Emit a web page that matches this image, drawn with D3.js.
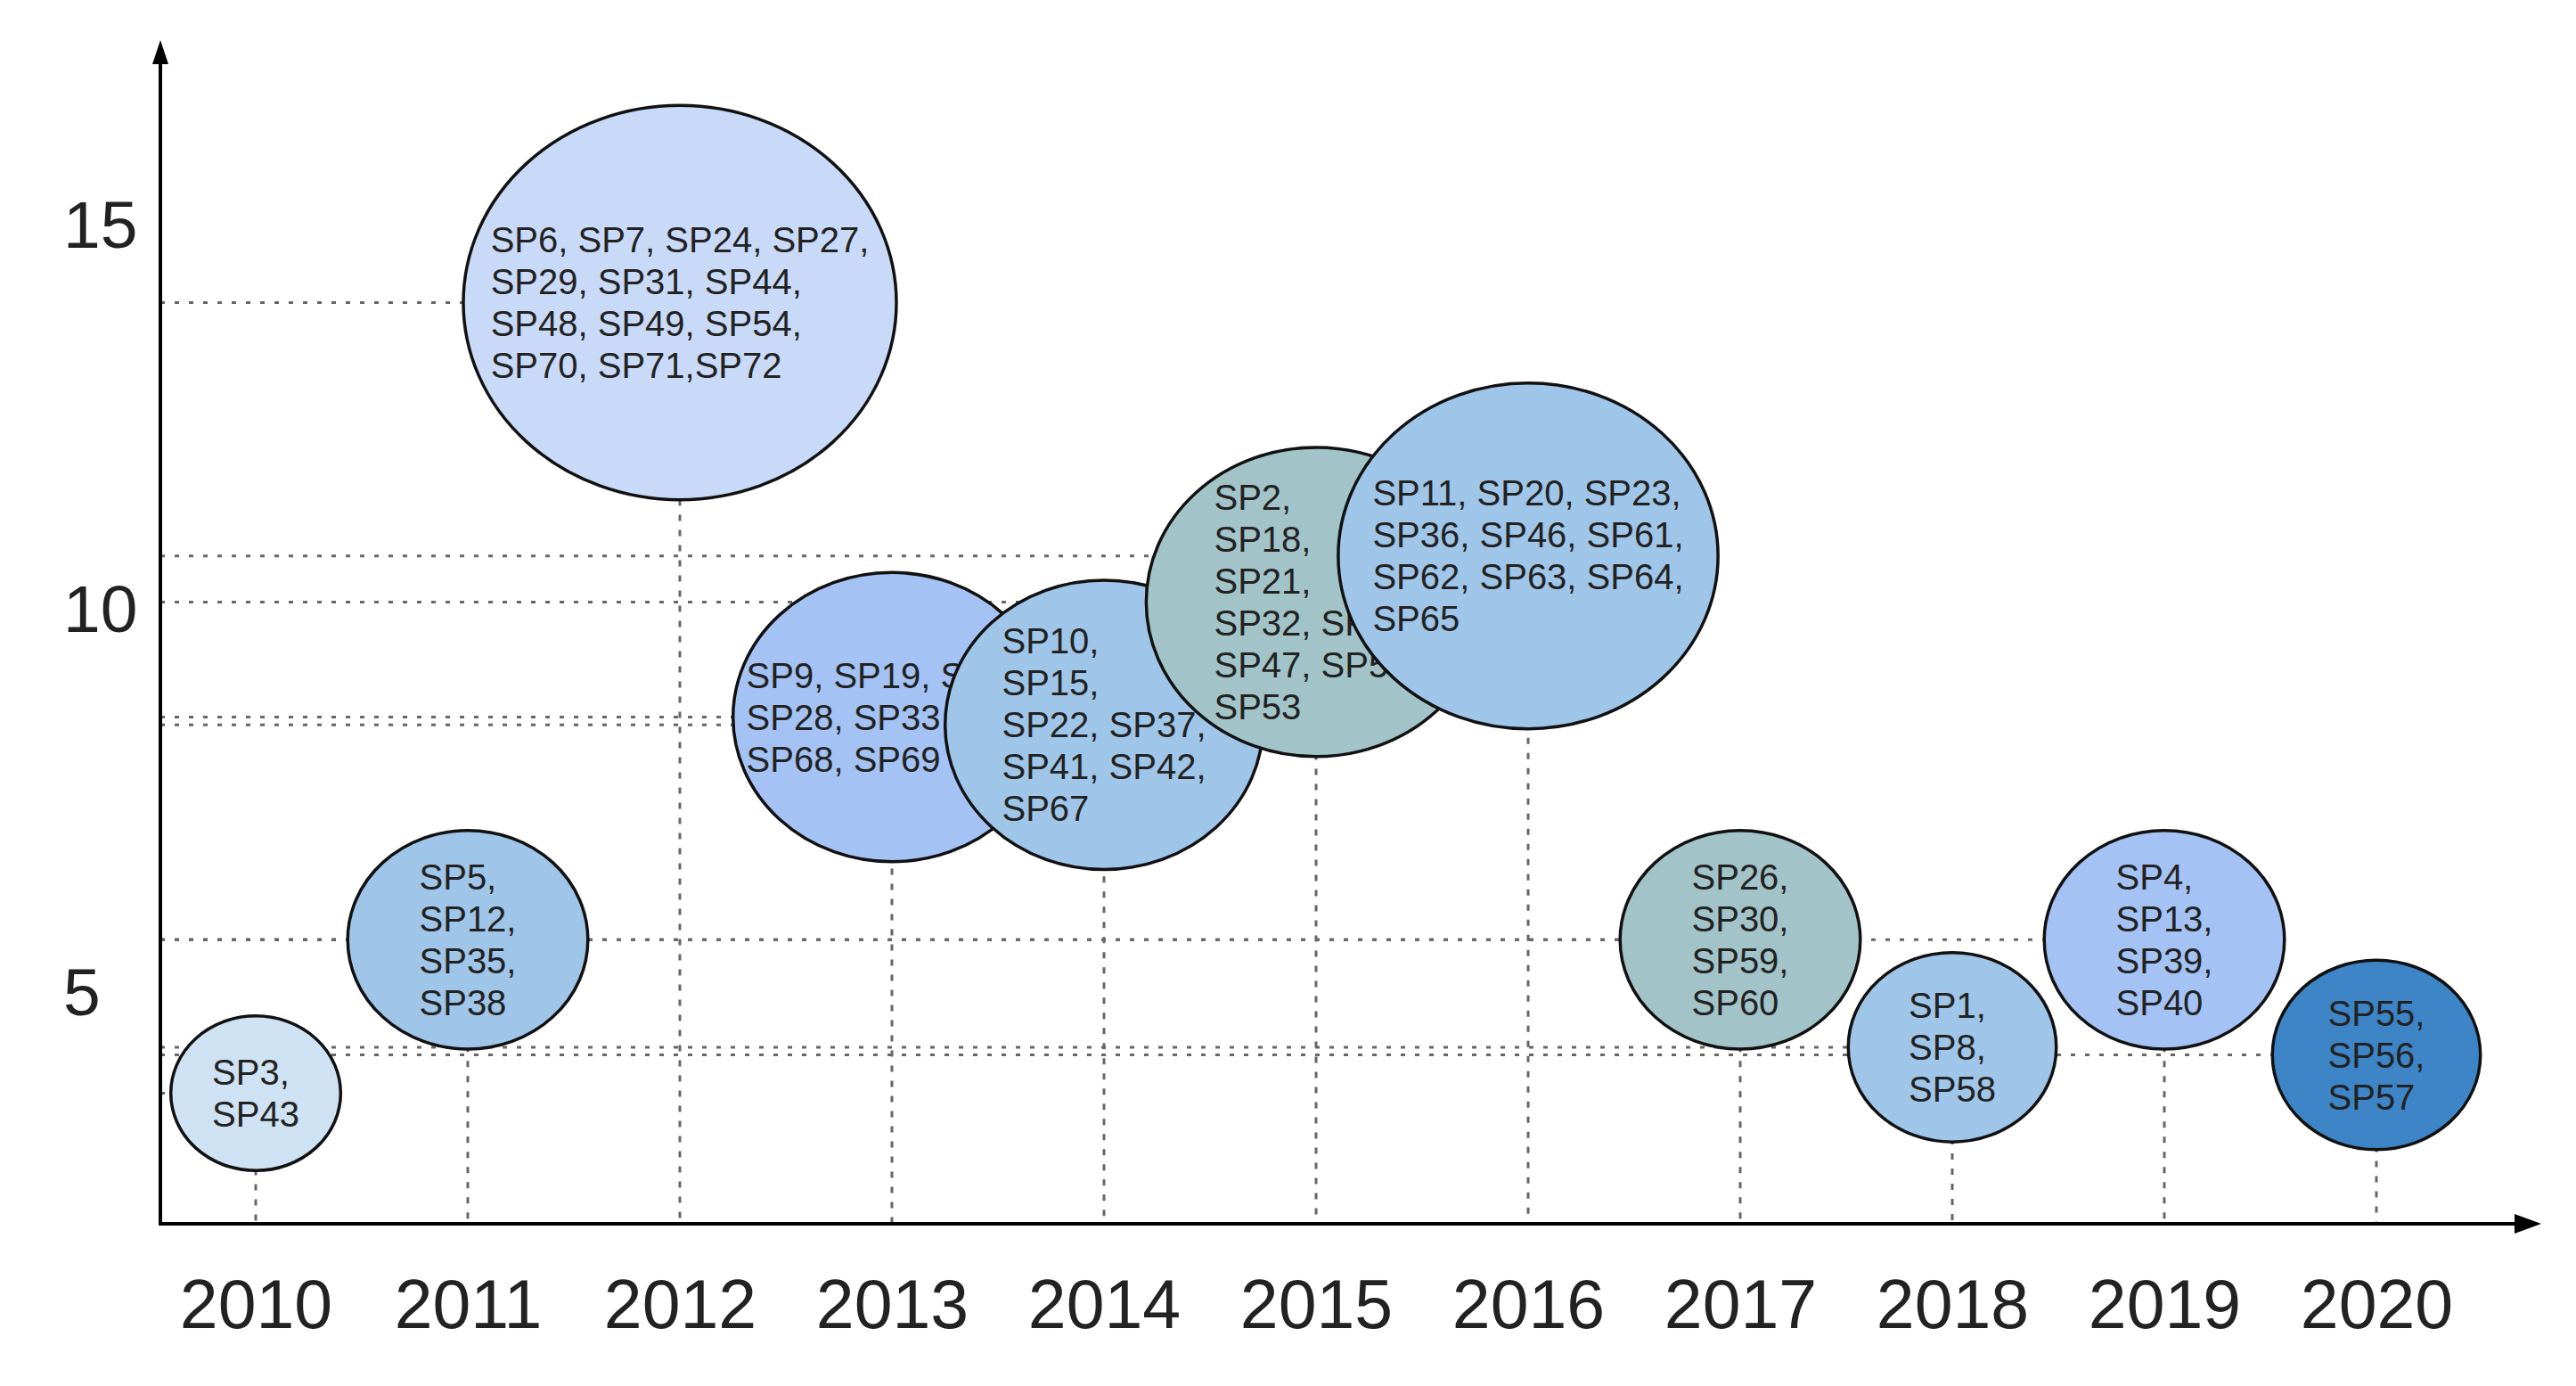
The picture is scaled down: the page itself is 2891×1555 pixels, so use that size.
<!DOCTYPE html>
<html><head><meta charset="utf-8">
<script src="https://cdn.jsdelivr.net/npm/d3@7"></script>
<style>
html,body{margin:0;padding:0;background:#fff;}
svg{display:block;font-family:"Liberation Sans", Arial, Helvetica, sans-serif;}
</style></head>
<body>
<svg id="chart" width="2891" height="1555"></svg>
<script>
// ---- data ----
const years = [2010, 2011, 2012, 2013, 2014, 2015, 2016, 2017, 2018, 2019, 2020];
const yValues = [3.7, 5.7, 14.0, 8.6, 8.5, 10.1, 10.7, 5.7, 4.3, 5.7, 4.2];
const studyLines = [
  ["SP3,", "SP43"],
  ["SP5,", "SP12,", "SP35,", "SP38"],
  ["SP6, SP7, SP24, SP27,", "SP29, SP31, SP44,", "SP48, SP49, SP54,", "SP70, SP71,SP72"],
  ["SP9, SP19, SP25,", "SP28, SP33,", "SP68, SP69"],
  ["SP10,", "SP15,", "SP22, SP37,", "SP41, SP42,", "SP67"],
  ["SP2,", "SP18,", "SP21,", "SP32, SP45,", "SP47, SP52,", "SP53"],
  ["SP11, SP20, SP23,", "SP36, SP46, SP61,", "SP62, SP63, SP64,", "SP65"],
  ["SP26,", "SP30,", "SP59,", "SP60"],
  ["SP1,", "SP8,", "SP58"],
  ["SP4,", "SP13,", "SP39,", "SP40"],
  ["SP55,", "SP56,", "SP57"]
];
const yTickValues = [5, 10, 15];

// ---- styles ----
const fillColors = ["#cfe2f3", "#9fc5e8", "#c9daf8", "#a4c2f4", "#9fc5e8", "#a2c4c9",
                    "#9fc5e8", "#a2c4c9", "#9fc5e8", "#a4c2f4", "#3d85c6"];

const counts = studyLines.map(l => l.join(" ").match(/SP\d+/g).length);
const data = years.map((yr, i) => ({year: yr, value: yValues[i], lines: studyLines[i], n: counts[i], fill: fillColors[i]}));

// ---- layout ----
const axisX = 180, axisY = 1373, topY = 45, rightX = 2852;
const x = d3.scaleLinear().domain([2010, 2020]).range([287, 2667]);
const y = d3.scaleLinear().domain([2, 10]).range([axisY, 684]);
const r = d3.scaleSqrt().domain([0, 13]).range([0, 243]);
const aspect = 0.91;

const svg = d3.select("#chart");

// gridlines (beneath bubbles)
const grid = svg.append("g");
grid.selectAll("line.h").data(data).join("line")
  .attr("class", "h")
  .attr("x1", axisX).attr("x2", d => x(d.year))
  .attr("y1", d => y(d.value)).attr("y2", d => y(d.value))
  .attr("stroke", "#666").attr("stroke-width", 3).attr("stroke-dasharray", "5,11");
grid.selectAll("line.v").data(data).join("line")
  .attr("class", "v")
  .attr("x1", d => x(d.year)).attr("x2", d => x(d.year))
  .attr("y1", d => y(d.value)).attr("y2", axisY)
  .attr("stroke", "#666").attr("stroke-width", 3).attr("stroke-dasharray", "7,10");

// bubbles with their labels, drawn year by year
const lineH = 47, fs = 40;
const bub = svg.append("g").selectAll("g").data(data).join("g");
bub.append("ellipse")
  .attr("cx", d => x(d.year)).attr("cy", d => y(d.value))
  .attr("rx", d => r(d.n)).attr("ry", d => r(d.n) * aspect)
  .attr("fill", d => d.fill).attr("stroke", "#111").attr("stroke-width", 3.5);
bub.each(function(d) {
  const g = d3.select(this);
  const cx = x(d.year), cy = y(d.value);
  const nL = d.lines.length;
  const t = g.selectAll("text").data(d.lines).join("text")
    .attr("font-size", fs).attr("fill", "#222")
    .attr("y", (s, i) => cy + (i - (nL - 1) / 2) * lineH + 14)
    .text(s => s);
  let maxW = 0;
  t.each(function() { maxW = Math.max(maxW, this.getComputedTextLength()); });
  t.attr("x", cx - maxW / 2);
});

// axes lines with arrowheads
svg.append("line").attr("x1", axisX).attr("x2", axisX).attr("y1", axisY + 2).attr("y2", topY + 20)
  .attr("stroke", "#000").attr("stroke-width", 4);
svg.append("line").attr("x1", axisX - 2).attr("x2", rightX - 25).attr("y1", axisY).attr("y2", axisY)
  .attr("stroke", "#000").attr("stroke-width", 4);
svg.append("path").attr("d", `M${axisX},${topY} L${axisX - 9},${topY + 27} L${axisX + 9},${topY + 27} Z`).attr("fill", "#000");
svg.append("path").attr("d", `M${rightX},${axisY} L${rightX - 30},${axisY - 11} L${rightX - 30},${axisY + 11} Z`).attr("fill", "#000");

// x tick labels
const gx = svg.append("g").attr("transform", `translate(0,${axisY})`)
  .call(d3.axisBottom(x).tickValues(years).tickFormat(d3.format("d")).tickSize(0).tickPadding(62));
gx.select(".domain").remove();
gx.attr("font-family", null).attr("font-size", null);
gx.selectAll("text").attr("font-size", 77).attr("fill", "#222");

// y tick labels
const gy = svg.append("g").attr("transform", `translate(${axisX},0)`)
  .call(d3.axisLeft(y).tickValues(yTickValues).tickFormat(d3.format("d")).tickSize(0));
gy.select(".domain").remove();
gy.attr("font-family", null).attr("font-size", null);
gy.selectAll("text").attr("font-size", 75).attr("fill", "#222")
  .attr("text-anchor", "start").attr("x", 71 - axisX);
</script>
</body></html>
